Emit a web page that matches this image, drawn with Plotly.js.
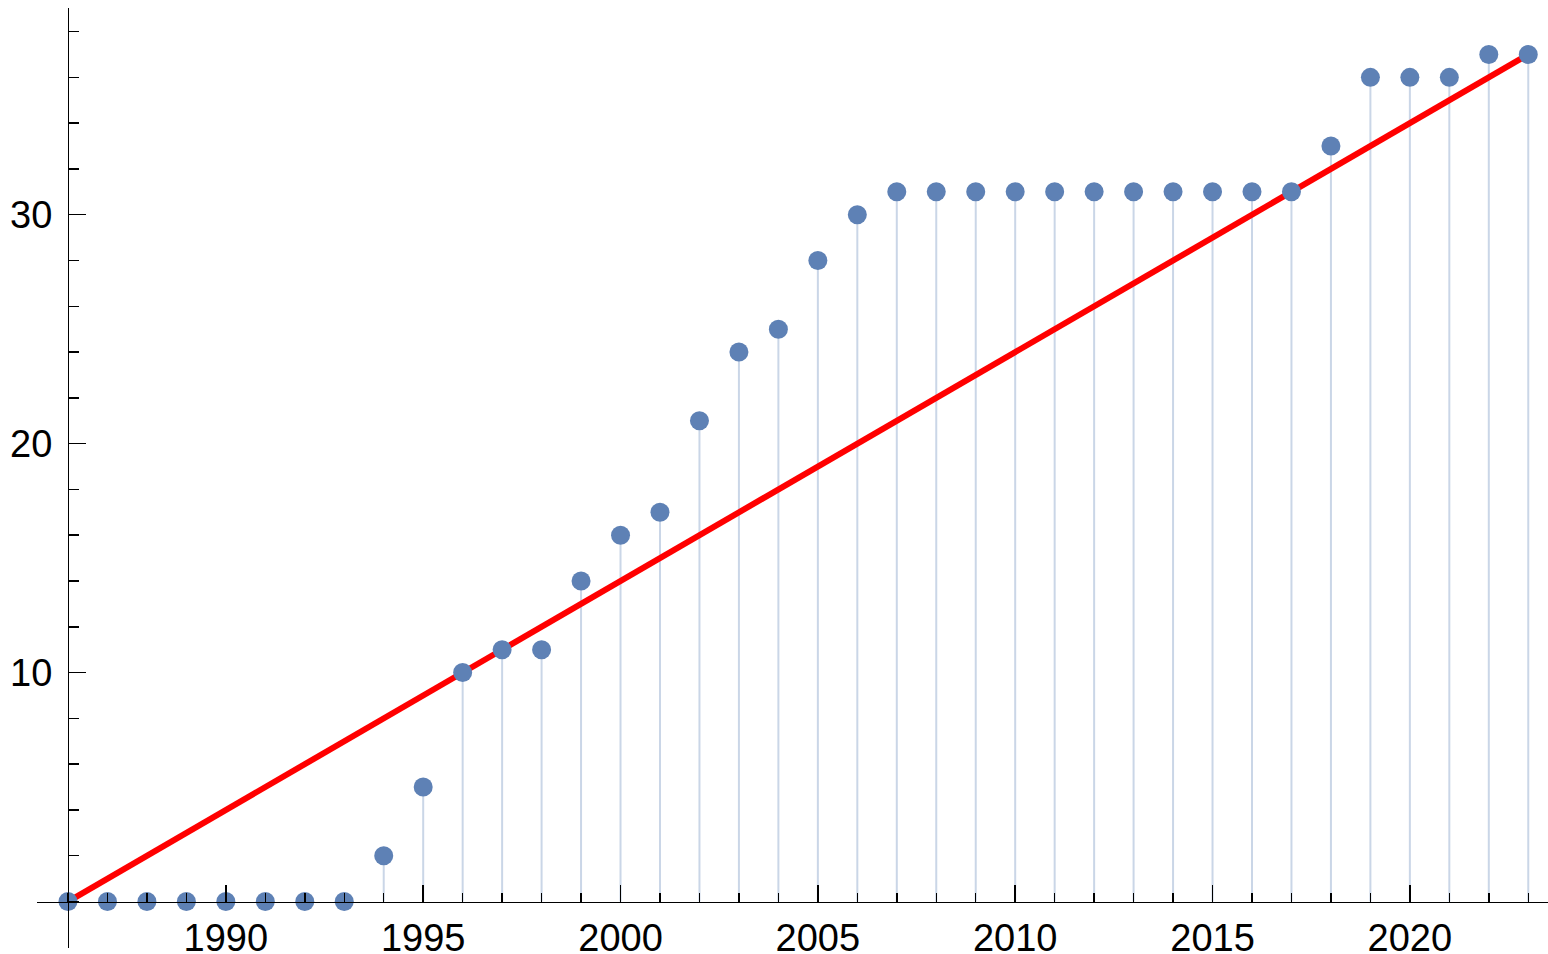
<!DOCTYPE html>
<html>
<head>
<meta charset="utf-8">
<script src="https://cdn.plot.ly/plotly-3.0.1.min.js"></script>
<style>html,body{margin:0;padding:0;background:#fff;}#chart{width:1548px;height:954px;}</style>
</head>
<body>
<div id="chart"></div>
<script>
// Data
var years = [1986,1987,1988,1989,1990,1991,1992,1993,1994,1995,1996,1997,1998,1999,2000,2001,2002,2003,2004,2005,2006,2007,2008,2009,2010,2011,2012,2013,2014,2015,2016,2017,2018,2019,2020,2021,2022,2023];
var counts = [0,0,0,0,0,0,0,0,2,5,10,11,11,14,16,17,21,24,25,28,30,31,31,31,31,31,31,31,31,31,31,31,33,36,36,36,37,37];
var fitX = [1986, 2023];
var fitY = [0, 37];
var yTickVals = [10, 20, 30];

var xRange = [1985.215, 2023.5];
var yRange = [-2.03, 39.03];

// Stems built from the data arrays
var stemX = [], stemY = [];
for (var i = 0; i < years.length; i++) {
  stemX.push(years[i], years[i], null);
  stemY.push(0, counts[i], null);
}

var traces = [
  {x: stemX, y: stemY, mode: 'lines', line: {color: '#cad6e7', width: 2}, hoverinfo: 'skip', showlegend: false},
  {x: fitX, y: fitY, mode: 'lines', line: {color: '#ff0000', width: 6}, showlegend: false},
  {x: years, y: counts, mode: 'markers', marker: {color: '#5e81b5', size: 19}, showlegend: false}
];

var fontSpec = {family: 'Liberation Sans, Arial, sans-serif', size: 38, color: '#000'};

var layout = {
  width: 1548, height: 954,
  margin: {l: 37, r: 0, t: 8, b: 6, pad: 0},
  paper_bgcolor: '#fff', plot_bgcolor: '#fff',
  showlegend: false,
  xaxis: {
    range: xRange, showgrid: false, zeroline: false,
    anchor: 'free', position: (0 - yRange[0]) / (yRange[1] - yRange[0]),
    showline: true, linecolor: '#000', linewidth: 1.5,
    tickmode: 'linear', tick0: 1990, dtick: 5,
    ticks: 'inside', ticklen: 17, tickwidth: 1.5, tickcolor: '#000',
    minor: {tickmode: 'linear', tick0: 1986, dtick: 1, ticks: 'inside', ticklen: 9, tickwidth: 1.5, tickcolor: '#000', showgrid: false},
    tickfont: fontSpec, ticklabelstandoff: 2
  },
  yaxis: {
    range: yRange, showgrid: false, zeroline: false,
    anchor: 'free', position: (1986 - xRange[0]) / (xRange[1] - xRange[0]),
    showline: true, linecolor: '#000', linewidth: 1.5,
    tickmode: 'array', tickvals: yTickVals,
    ticks: 'inside', ticklen: 17, tickwidth: 1.5, tickcolor: '#000',
    minor: {tickmode: 'linear', tick0: 0, dtick: 2, ticks: 'inside', ticklen: 10, tickwidth: 1.5, tickcolor: '#000', showgrid: false},
    tickfont: fontSpec, ticklabelstandoff: 8
  }
};

Plotly.newPlot('chart', traces, layout, {displayModeBar: false, staticPlot: true});
</script>
</body>
</html>
